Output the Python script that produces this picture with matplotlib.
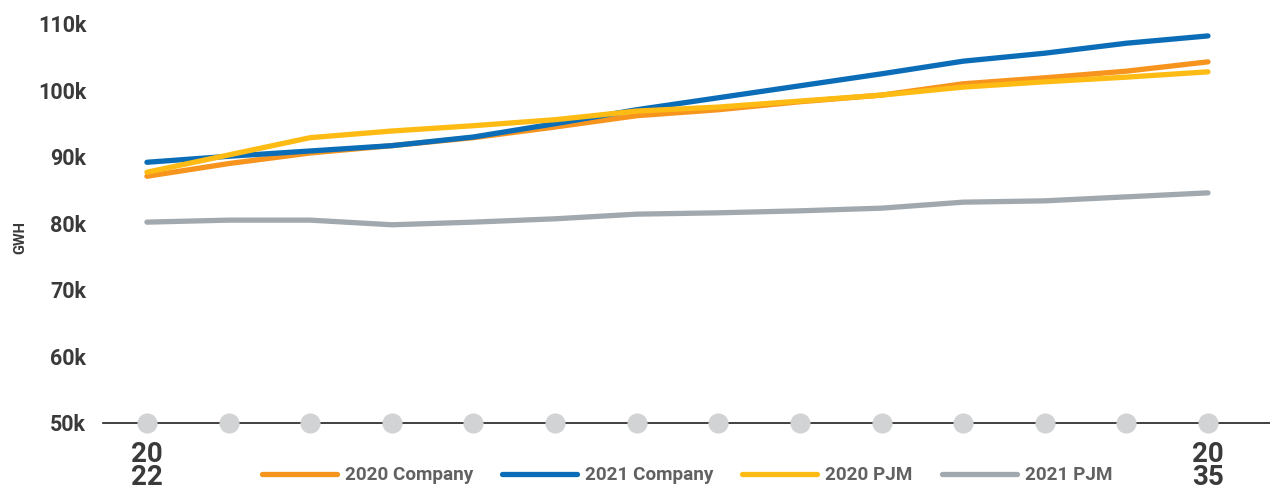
import numpy as np
import matplotlib.pyplot as plt

plt.rcParams['font.family'] = ['Roboto', 'DejaVu Sans']

# annual energy forecast, GWh
years = np.arange(2022, 2036)
company_2020 = [87.1, 89.0, 90.6, 91.7, 92.9, 94.5, 96.2, 97.1, 98.3, 99.3, 101.0, 101.9, 102.9, 104.3]
company_2021 = [89.2, 90.1, 90.9, 91.7, 93.0, 95.0, 97.1, 98.9, 100.7, 102.5, 104.4, 105.6, 107.1, 108.2]
pjm_2020 = [87.7, 90.3, 92.9, 93.9, 94.7, 95.6, 96.9, 97.5, 98.4, 99.3, 100.5, 101.3, 102.0, 102.8]
pjm_2021 = [80.2, 80.5, 80.5, 79.8, 80.2, 80.7, 81.4, 81.6, 81.9, 82.3, 83.2, 83.4, 84.0, 84.6]

series = [
    ('2020 Company', company_2020, '#F7941D'),
    ('2021 Company', company_2021, '#0B6DB7'),
    ('2020 PJM', pjm_2020, '#FDBB13'),
    ('2021 PJM', pjm_2021, '#A1A9AF'),
]

fig = plt.figure(figsize=(12.7, 4.95), dpi=100)
ax = fig.add_axes([0.081, 0.1455, 0.919, 0.833])

handles = []
for name, vals, col in series:
    h, = ax.plot(years, np.array(vals) * 1000, color=col, lw=3.8,
                 solid_capstyle='round', label=name, zorder=3)
    handles.append(h)

# year markers along the baseline
ax.plot(years, np.full(len(years), 50000), 'o', ms=13.5, color='#D1D3D4',
        clip_on=False, zorder=4)

ax.set_xlim(2021.46, 2035.76)
ax.set_ylim(50000, 112000)
ax.set_yticks(np.arange(50000, 110001, 10000))
ax.set_yticklabels([f'{v // 1000}k' for v in range(50000, 110001, 10000)],
                   fontsize=15.5, fontweight='bold', color='#3A3A3A')
ax.set_xticks([2022, 2035])
ax.set_xticklabels(['20\n22', '20\n35'], fontsize=20, fontweight='bold',
                   color='#3A3A3A', linespacing=0.82)
ax.tick_params(length=0)
ax.tick_params(axis='y', pad=12)
ax.tick_params(axis='x', pad=13)

for s in ['top', 'right', 'left']:
    ax.spines[s].set_visible(False)
ax.spines['bottom'].set_color('#231F20')
ax.spines['bottom'].set_linewidth(1.2)
ax.spines['bottom'].set_zorder(2)

fig.text(0.016, 0.52, 'GWH', rotation=90, fontsize=10.5, fontweight='bold',
         color='#3A3A3A', ha='center', va='center')

leg = fig.legend(handles=handles, loc='center', bbox_to_anchor=(0.541, 0.04),
                 ncol=4, frameon=False, handlelength=3.97, columnspacing=1.53,
                 handletextpad=0.42,
                 prop={'size': 13.6, 'weight': 'bold'})
for t in leg.get_texts():
    t.set_color('#616161')

fig.savefig('out.png', dpi=100)
